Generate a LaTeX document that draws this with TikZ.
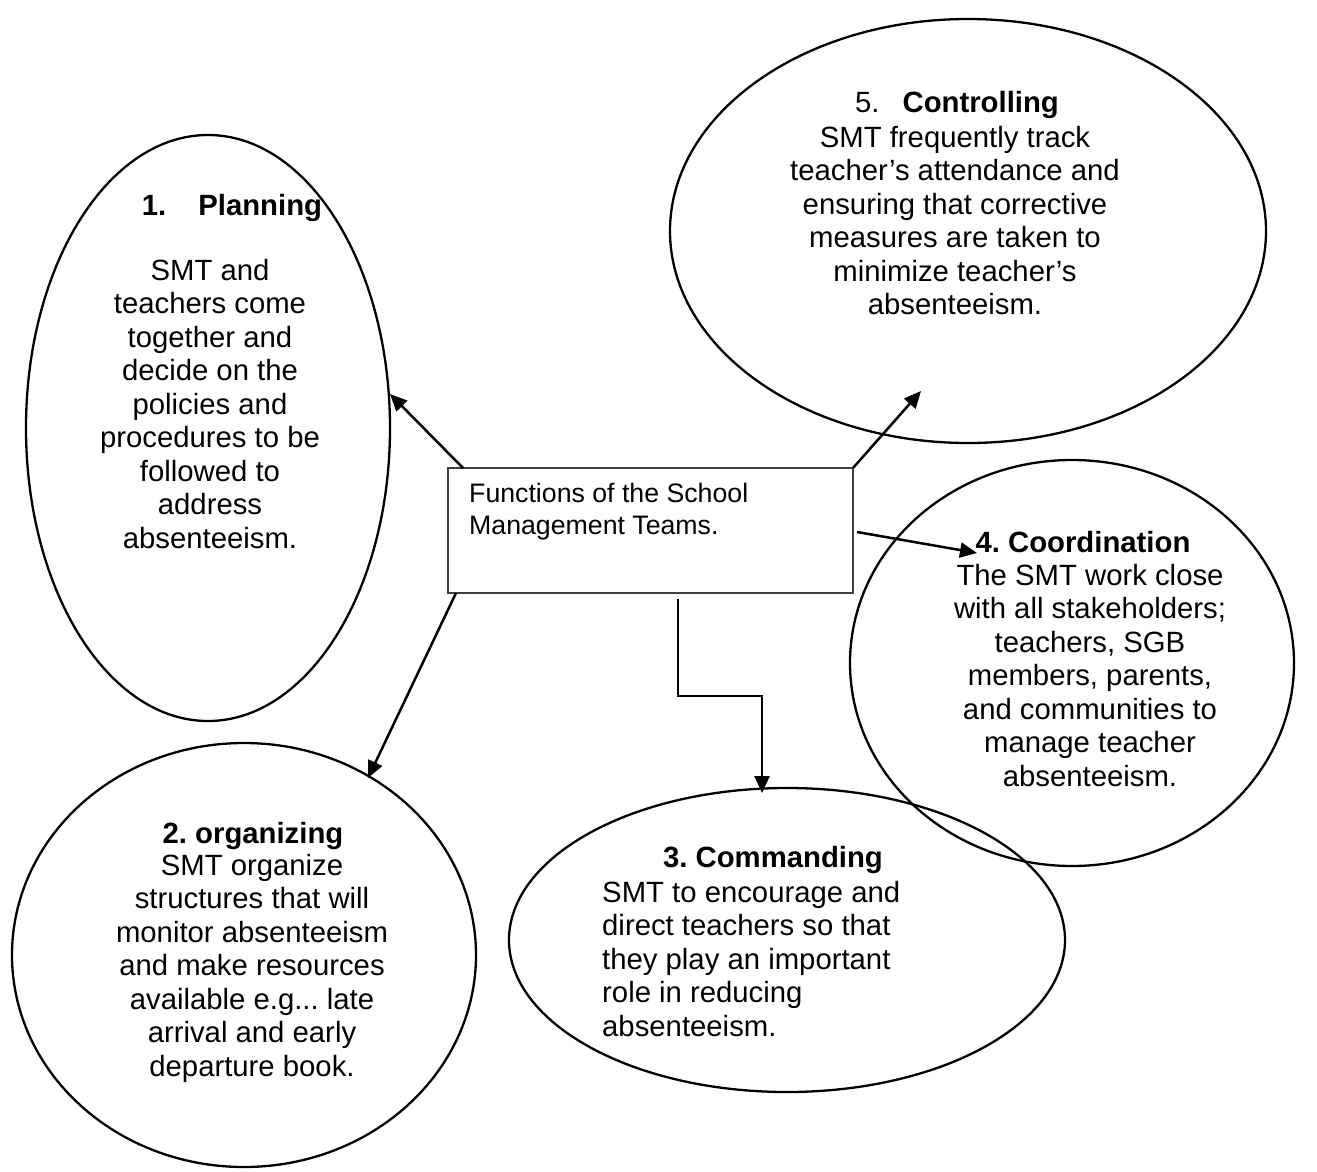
\documentclass[tikz,border=0pt]{standalone}
\usepackage{fontspec}
\setmainfont{Liberation Sans}
\usetikzlibrary{shapes.geometric,arrows.meta}
\definecolor{boxgray}{RGB}{64,64,64}
\frenchspacing
\begin{document}
\begin{tikzpicture}[x=1pt,y=-1pt,
  oval/.style={draw=black, line width=2.3pt, ellipse, inner sep=0pt},
  txt/.style={font=\fontsize{29.3}{33.5}\selectfont, align=center, inner sep=0pt, anchor=base},
  ttl/.style={font=\fontsize{29.3}{33.5}\selectfont\bfseries, inner sep=0pt, anchor=base},
  arr/.style={draw=black, line width=2.5pt, -{Triangle[length=17pt,width=15pt]}},
]
\useasboundingbox (0,0) rectangle (1317,1172);

% ellipses
\node[oval, minimum width=364pt, minimum height=586pt] (plan) at (208,428) {};
\node[oval, minimum width=596pt, minimum height=424pt] (ctrl) at (968,231) {};
\node[oval, minimum width=444pt, minimum height=406pt] (coord) at (1072,663) {};
\node[oval, minimum width=556pt, minimum height=304pt] (cmd) at (787,940) {};
\node[oval, minimum width=464pt, minimum height=424pt] (org) at (244,955) {};

% central box
\node[draw=boxgray, line width=1.3pt, minimum width=405pt, minimum height=125pt, inner sep=0pt] (box) at (650.5,530.5) {};
% multi-line nodes: the base anchor is the baseline of the last line
\node[font=\fontsize{26.7}{32}\selectfont, align=left, inner sep=0pt, anchor=base west] (boxtxt) at (469,534) {Functions of the School\\Management Teams.};

% texts
\node[ttl] (planT) at (232,215) {1.\hspace{32pt}Planning};
\node[txt] (planB) at (210,548) {SMT and\\teachers come\\together and\\decide on the\\policies and\\procedures to be\\followed to\\address\\absenteeism.};

\node[ttl, font=\fontsize{29.3}{33.5}\selectfont] (ctrlT) at (957,112) {5.\hspace{23pt}\textbf{Controlling}};
\node[txt] (ctrlB) at (955,314.5) {SMT frequently track\\teacher’s attendance and\\ensuring that corrective\\measures are taken to\\minimize teacher’s\\absenteeism.};

\node[ttl] (coordT) at (1083,552) {4. Coordination};
\node[txt] (coordB) at (1090,786) {The SMT work close\\with all stakeholders;\\teachers, SGB\\members, parents,\\and communities to\\manage teacher\\absenteeism.};

\node[ttl] (cmdT) at (773,867) {3. Commanding};
\node[txt, align=left, anchor=base west] (cmdB) at (602,1036) {SMT to encourage and\\direct teachers so that\\they play an important\\role in reducing\\absenteeism.};

\node[ttl] (orgT) at (253,843) {2. organizing};
\node[txt] (orgB) at (252,1076) {SMT organize\\structures that will\\monitor absenteeism\\and make resources\\available e.g... late\\arrival and early\\departure book.};

% connector end points
\coordinate (s1) at (463,468);  \coordinate (t1) at (390,394);
\coordinate (s2) at (853,468);  \coordinate (t2) at (921,391);
\coordinate (s3) at (857,532);  \coordinate (t3) at (977,553);
\coordinate (s4) at (456,593);  \coordinate (t4) at (368,778);
\coordinate (s5) at (678,599);  \coordinate (c5) at (720,696); \coordinate (t5) at (762,793);

\draw[arr] (s1) -- (t1);
\draw[arr] (s2) -- (t2);
\draw[arr] (s3) -- (t3);
\draw[arr] (s4) -- (t4);
\draw[arr] (s5) |- (c5) -| (t5);
\end{tikzpicture}
\end{document}
